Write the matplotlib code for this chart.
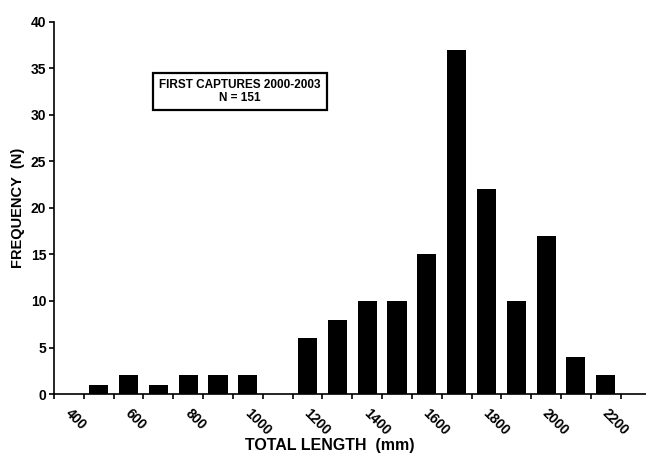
import matplotlib
matplotlib.use('Agg')
import matplotlib.pyplot as plt
import numpy as np

# total length classes (mm) and number of first captures
lengths = [400, 500, 600, 700, 800, 900, 1000, 1100, 1200, 1300,
           1400, 1500, 1600, 1700, 1800, 1900, 2000, 2100, 2200]
counts = [0, 1, 2, 1, 2, 2, 2, 0, 6, 8, 10, 10, 15, 37, 22, 10, 17, 4, 2]
tick_labels = [str(v) for v in lengths[::2]]

plt.rcParams['font.family'] = ['Liberation Sans', 'DejaVu Sans']
plt.rcParams['font.weight'] = 'bold'

fig = plt.figure(figsize=(6.46, 4.55), dpi=100)
ax = fig.add_axes([0.0836, 0.134, 0.9164, 0.818])

x = np.arange(len(lengths))
ax.bar(x, counts, width=0.64, color='black')

ax.set_xlim(-0.5, 19.35)
ax.set_ylim(0, 40)

# tick marks between classes, labels on every other class
ax.set_xticks(np.arange(len(lengths) + 1) - 0.5)
ax.set_xticklabels([])
ax.set_xticks(x[::2] + 0.12, minor=True)
ax.set_xticklabels(tick_labels, minor=True, rotation=-45, ha='left', va='top',
                   rotation_mode='anchor', fontsize=10, fontweight='bold')
ax.tick_params(axis='x', which='major', direction='out', length=3.6, width=1.2)
ax.tick_params(axis='x', which='minor', length=0, pad=9)

ax.set_yticks(range(0, 41, 5))
ax.tick_params(axis='y', direction='out', length=3.6, width=1.2, labelsize=10, pad=2)
for lab in ax.get_yticklabels():
    lab.set_fontweight('bold')

ax.spines['top'].set_visible(False)
ax.spines['right'].set_visible(False)
ax.spines['left'].set_linewidth(1.2)
ax.spines['bottom'].set_linewidth(1.2)

ax.set_xlabel('TOTAL LENGTH  (mm)', fontsize=11.5, fontweight='bold', va='top')
ax.xaxis.set_label_coords(0.465, -0.117)
ax.set_ylabel('FREQUENCY  (N)', fontsize=10.5, fontweight='bold', labelpad=4)

ax.text(5.74, 32.5, 'FIRST CAPTURES 2000-2003\nN = 151', ha='center', va='center',
        fontsize=8.5, fontweight='bold', linespacing=1.05,
        bbox=dict(boxstyle='square,pad=0.55', facecolor='white', edgecolor='black', linewidth=1.6))

fig.savefig('out.png', dpi=100)
